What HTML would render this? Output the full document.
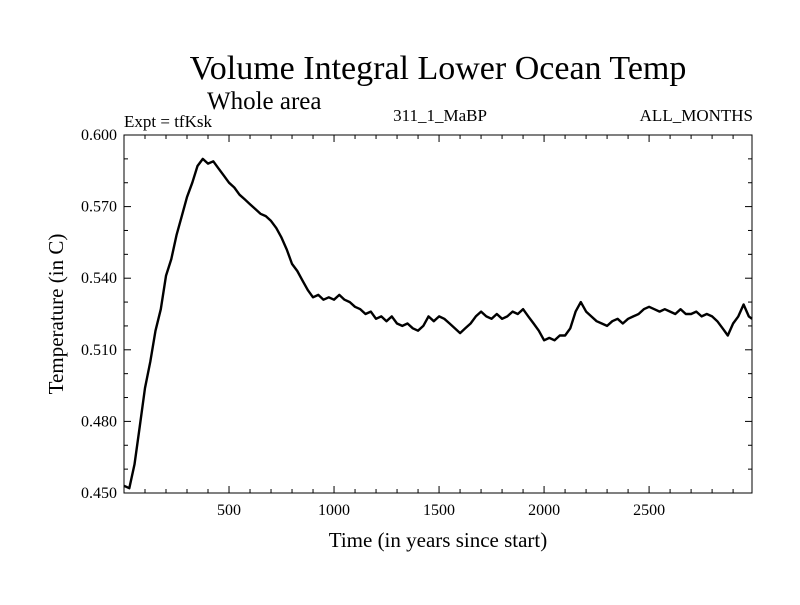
<!DOCTYPE html>
<html><head><meta charset="utf-8"><style>
body{margin:0;background:#fff}
svg text{font-family:"Liberation Serif",serif;fill:#000}
</style></head><body>
<svg width="800" height="600" xmlns="http://www.w3.org/2000/svg">
<text x="438" y="79" font-size="34" text-anchor="middle">Volume Integral Lower Ocean Temp</text>
<text x="207" y="109" font-size="25">Whole area</text>
<text x="124" y="127" font-size="17">Expt = tfKsk</text>
<text x="440" y="121" font-size="17" text-anchor="middle">311_1_MaBP</text>
<text x="753" y="121" font-size="17" text-anchor="end">ALL_MONTHS</text>
<g id="axes"></g>
<text x="438" y="547" font-size="21" text-anchor="middle">Time (in years since start)</text>
<text transform="translate(63,314) rotate(-90)" font-size="21" text-anchor="middle">Temperature (in C)</text>
</svg>
<script>
const years=[0,25,50,75,100,125,150,175,200,225,250,275,300,325,350,375,400,425,450,475,500,525,550,575,600,625,650,675,700,725,750,775,800,825,850,875,900,925,950,975,1000,1025,1050,1075,1100,1125,1150,1175,1200,1225,1250,1275,1300,1325,1350,1375,1400,1425,1450,1475,1500,1525,1550,1575,1600,1625,1650,1675,1700,1725,1750,1775,1800,1825,1850,1875,1900,1925,1950,1975,2000,2025,2050,2075,2100,2125,2150,2175,2200,2225,2250,2275,2300,2325,2350,2375,2400,2425,2450,2475,2500,2525,2550,2575,2600,2625,2650,2675,2700,2725,2750,2775,2800,2825,2850,2875,2900,2925,2950,2975,2990];
const temps=[.453,.452,.462,.478,.494,.505,.518,.527,.541,.548,.558,.566,.574,.580,.587,.590,.588,.589,.586,.583,.580,.578,.575,.573,.571,.569,.567,.566,.564,.561,.557,.552,.546,.543,.539,.535,.532,.533,.531,.532,.531,.533,.531,.530,.528,.527,.525,.526,.523,.524,.522,.524,.521,.520,.521,.519,.518,.520,.524,.522,.524,.523,.521,.519,.517,.519,.521,.524,.526,.524,.523,.525,.523,.524,.526,.525,.527,.524,.521,.518,.514,.515,.514,.516,.516,.519,.526,.530,.526,.524,.522,.521,.520,.522,.523,.521,.523,.524,.525,.527,.528,.527,.526,.527,.526,.525,.527,.525,.525,.526,.524,.525,.524,.522,.519,.516,.521,.524,.529,.524,.523];
const xTicks=[500,1000,1500,2000,2500];
const yTicks=[0.450,0.480,0.510,0.540,0.570,0.600];
const NS="http://www.w3.org/2000/svg";
const L=124,R=752,T=135,B=493,XMIN=0,XMAX=2990,YMIN=0.45,YMAX=0.6;
const sx=v=>L+(v-XMIN)/(XMAX-XMIN)*(R-L);
const sy=v=>B-(v-YMIN)/(YMAX-YMIN)*(B-T);
const g=document.getElementById('axes');
function mk(t,a){const e=document.createElementNS(NS,t);for(const k in a)e.setAttribute(k,a[k]);g.appendChild(e);return e;}
let d='';
for(let i=0;i<years.length;i++){d+=(i?'L':'M')+sx(years[i]).toFixed(1)+','+sy(temps[i]).toFixed(1);}
const line=mk('path',{d:d,fill:'none',stroke:'#000','stroke-width':2.4,'stroke-linejoin':'round'});


const frame=mk('rect',{x:L,y:T,width:R-L,height:B-T,fill:'none',stroke:'#000','stroke-width':1});


for(let v=100;v<XMAX;v+=100){const x=sx(v);const big=v%500===0;const len=big?7:4;
mk('line',{x1:x,y1:B,x2:x,y2:B-len,stroke:'#000'});mk('line',{x1:x,y1:T,x2:x,y2:T+len,stroke:'#000'});}
xTicks.forEach(v=>{const t=mk('text',{x:sx(v),y:B+22,'font-size':16,'text-anchor':'middle'});t.textContent=v;

});
for(let k=0;k<=15;k++){const v=YMIN+k*0.01;const y=sy(v);const big=k%3===0;const len=big?7:4;
mk('line',{x1:L,y1:y,x2:L+len,y2:y,stroke:'#000'});mk('line',{x1:R,y1:y,x2:R-len,y2:y,stroke:'#000'});}
yTicks.forEach(v=>{const t=mk('text',{x:L-7,y:sy(v)+5,'font-size':16,'text-anchor':'end'});t.textContent=v.toFixed(3);

});
</script>
</body></html>
